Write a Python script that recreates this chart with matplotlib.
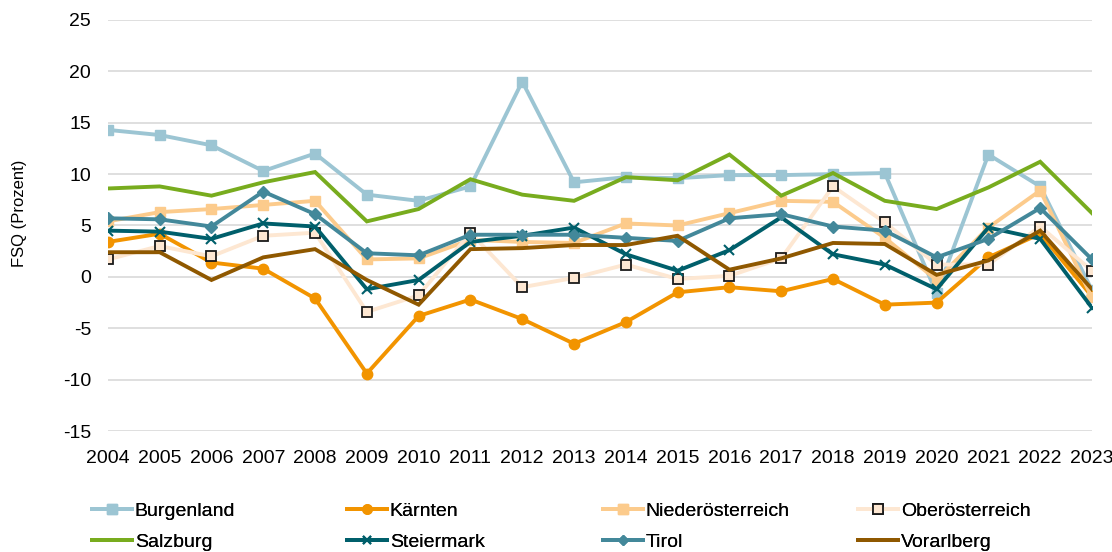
import matplotlib
matplotlib.use("Agg")
import matplotlib.pyplot as plt

plt.rcParams['font.family'] = ['Liberation Sans', 'DejaVu Sans']
plt.rcParams['axes.unicode_minus'] = False

years = list(range(2004, 2024))

burgenland = [14.3, 13.8, 12.8, 10.3, 12.0, 8.0, 7.4, 8.8, 19.0, 9.2,
              9.7, 9.6, 9.9, 9.9, 10.0, 10.1, -1.6, 11.9, 8.8, -1.3]
kaernten = [3.4, 4.2, 1.4, 0.8, -2.1, -9.4, -3.8, -2.2, -4.1, -6.5,
            -4.4, -1.5, -1.0, -1.4, -0.2, -2.7, -2.5, 1.9, 4.2, -1.9]
niederoesterreich = [5.4, 6.3, 6.6, 7.0, 7.4, 1.7, 1.8, 3.6, 3.4, 3.3,
                     5.2, 5.0, 6.2, 7.4, 7.3, 3.8, -0.3, 4.8, 8.4, -2.0]
oberoesterreich = [1.7, 3.0, 2.0, 4.0, 4.3, -3.4, -1.8, 4.3, -1.0, -0.1,
                   1.2, -0.2, 0.1, 1.8, 8.8, 5.3, 1.2, 1.2, 4.9, 0.6]
salzburg = [8.6, 8.8, 7.9, 9.2, 10.2, 5.4, 6.6, 9.5, 8.0, 7.4,
            9.7, 9.4, 11.9, 7.9, 10.1, 7.4, 6.6, 8.7, 11.2, 6.2]
steiermark = [4.5, 4.4, 3.7, 5.2, 4.9, -1.2, -0.3, 3.4, 4.0, 4.8,
              2.2, 0.6, 2.6, 5.8, 2.2, 1.2, -1.2, 4.8, 3.7, -3.0]
tirol = [5.7, 5.6, 4.9, 8.3, 6.1, 2.3, 2.1, 4.1, 4.1, 4.1,
         3.8, 3.5, 5.7, 6.1, 4.9, 4.5, 1.9, 3.7, 6.7, 1.7]
vorarlberg = [2.4, 2.4, -0.3, 1.9, 2.7, -0.3, -2.7, 2.7, 2.8, 3.1,
              3.1, 4.0, 0.7, 1.8, 3.3, 3.2, 0.2, 1.6, 4.5, -1.2]

yticks = [-15, -10, -5, 0, 5, 10, 15, 20, 25]
ylabel = "FSQ (Prozent)"

series = [
    ("Burgenland", burgenland, dict(color="#9CC5D3", marker="s", ms=7.5, mfc="#9CC5D3", mec="#9CC5D3")),
    ("Kärnten", kaernten, dict(color="#F29400", marker="o", ms=7.5, mfc="#F29400", mec="#F29400")),
    ("Niederösterreich", niederoesterreich, dict(color="#FCCB8C", marker="s", ms=7.5, mfc="#FCCB8C", mec="#FCCB8C")),
    ("Oberösterreich", oberoesterreich, dict(color="#FDE7D2", marker="s", ms=7.5, mfc="#FDE7D2", mec="#1a1a1a", mew=1.3)),
    ("Salzburg", salzburg, dict(color="#78AC1E", marker=None)),
    ("Steiermark", steiermark, dict(color="#005F6B", marker="x", ms=7, mfc="#005F6B", mec="#005F6B", mew=1.5)),
    ("Tirol", tirol, dict(color="#43889A", marker="D", ms=6, mfc="#43889A", mec="#43889A")),
    ("Vorarlberg", vorarlberg, dict(color="#8F5800", marker=None)),
]

FS = 14

fig = plt.figure(figsize=(11.12, 5.52), dpi=100)
ax = fig.add_axes([0.097, 0.219, 0.885, 0.745])

handles = {}
for name, vals, st in series:
    st = dict(st)
    color = st.pop("color")
    ln, = ax.plot(years, vals, color=color, lw=2.8, solid_joinstyle="miter", **st)
    handles[name] = ln

ax.set_xlim(2004, 2023)
ax.set_ylim(-15, 25)
ax.set_yticks(yticks)
ax.set_xticks(years)
ax.set_xticklabels([str(y) for y in years])
ax.tick_params(axis="both", length=0, labelsize=FS, colors="#000000")
ax.tick_params(axis="y", pad=12)
ax.tick_params(axis="x", pad=13.5)
ax.grid(axis="y", color="#D9D9D9", lw=1.2)
ax.set_axisbelow(True)
for s in ax.spines.values():
    s.set_visible(False)

fig.text(20 / 1112, 1 - 213 / 552, ylabel, rotation=90, ha="center", va="center",
         fontsize=12)

cols = [("Burgenland", "Salzburg"), ("Kärnten", "Steiermark"),
        ("Niederösterreich", "Tirol"), ("Oberösterreich", "Vorarlberg")]
xpos = [92, 347, 603, 858]
for (a, b), xp in zip(cols, xpos):
    leg = fig.legend([handles[a], handles[b]], [a, b],
                     loc="upper left", bbox_to_anchor=(xp / 1112, 1 - 502 / 552),
                     frameon=False, fontsize=FS, handlelength=2.05,
                     handletextpad=0.15, borderpad=0, borderaxespad=0,
                     labelspacing=0.72, markerscale=0.9)
    fig.add_artist(leg)

fig.savefig("out.png", dpi=100)
